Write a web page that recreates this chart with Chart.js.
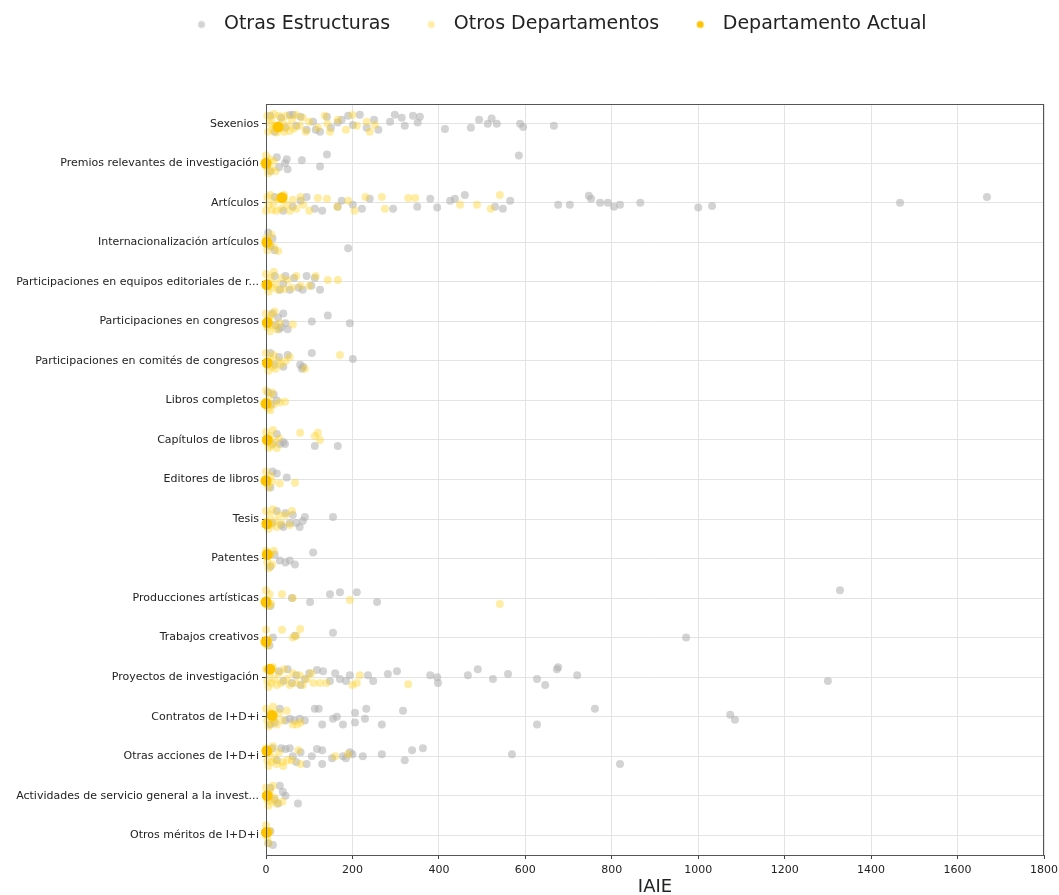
<html><head><script src="https://cdn.jsdelivr.net/npm/chart.js@4.4.3/dist/chart.umd.min.js"></script>
<style>body{margin:0;background:#fff}</style></head>
<body>
<canvas id="mychart" width="1059" height="895"></canvas>
<script>
// categorias del eje Y (de arriba a abajo)
categories = ["Sexenios", "Premios relevantes de investigación", "Artículos", "Internacionalización artículos",
  "Participaciones en equipos editoriales de r...", "Participaciones en congresos", "Participaciones en comités de congresos",
  "Libros completos", "Capítulos de libros", "Editores de libros", "Tesis", "Patentes", "Producciones artísticas",
  "Trabajos creativos", "Proyectos de investigación", "Contratos de I+D+i", "Otras acciones de I+D+i",
  "Actividades de servicio general a la invest...", "Otros méritos de I+D+i"]
xTicks = [0, 200, 400, 600, 800, 1000, 1200, 1400, 1600, 1800]
seriesNames = ["Otras Estructuras", "Otros Departamentos", "Departamento Actual"]

// [categoria, IAIE, desplazamiento vertical del punto (jitter)]
otrasEstructuras = [
  [0,10,-0.2],[0,20,0.2],[0,35,-0.15],[0,45,0.1],[0,55,-0.22],[0,62,-0.23],[0,70,0.05],[0,80,-0.18],[0,94,0.15],[0,109,-0.05],
  [0,115,0.15],[0,125,0.2],[0,141,-0.18],[0,150,0.1],[0,166,-0.03],[0,175,-0.1],[0,190,-0.2],[0,201,0.03],[0,217,-0.23],
  [0,233,0.1],[0,250,-0.1],[0,260,0.15],[0,287,-0.05],[0,298,-0.23],[0,314,-0.15],[0,321,0.05],[0,340,-0.2],[0,351,-0.03],
  [0,356,-0.18],[0,414,0.13],[0,474,0.1],[0,493,-0.1],[0,513,0],[0,522,-0.13],[0,534,0],[0,588,0],[0,595,0.08],[0,666,0.05],
  [1,10,0.2],[1,25,-0.15],[1,30,0.1],[1,44,0],[1,48,-0.1],[1,50,0.15],[1,83,-0.08],[1,125,0.08],[1,141,-0.22],[1,585,-0.2],
  [2,20,-0.15],[2,40,0.2],[2,62,0.1],[2,80,-0.05],[2,94,-0.15],[2,113,0.15],[2,130,0.2],[2,166,0.1],[2,175,-0.05],[2,201,0.05],
  [2,222,0.15],[2,240,-0.1],[2,294,0.15],[2,350,0.1],[2,380,-0.1],[2,396,0.12],[2,426,-0.05],[2,437,-0.1],[2,460,-0.2],
  [2,530,0.1],[2,548,0.15],[2,565,-0.05],[2,676,0.05],[2,703,0.05],[2,747,-0.18],[2,752,-0.1],[2,773,0],[2,791,0],[2,805,0.1],
  [2,819,0.05],[2,866,0],[2,1000,0.12],[2,1032,0.08],[2,1467,0],[2,1668,-0.15],
  [3,5,-0.25],[3,10,0.1],[3,15,-0.1],[3,20,0.2],[3,190,0.15],
  [4,20,-0.15],[4,32,0.2],[4,40,0.05],[4,45,-0.15],[4,55,0.2],[4,65,-0.1],[4,75,0.15],[4,85,0.2],[4,94,-0.15],[4,105,0.1],
  [4,113,-0.1],[4,125,0.2],
  [5,15,-0.2],[5,22,0.1],[5,28,-0.1],[5,30,0.2],[5,35,0.15],[5,40,-0.2],[5,45,0.05],[5,50,0.2],[5,106,0],[5,143,-0.15],[5,194,0.05],
  [6,10,-0.2],[6,20,0.1],[6,30,-0.1],[6,40,0.15],[6,50,-0.15],[6,79,0.1],[6,83,0.2],[6,86,0.15],[6,106,-0.2],[6,201,-0.05],
  [7,5,-0.2],[7,12,0.1],[7,18,-0.15],[7,25,0],
  [8,15,0.1],[8,25,-0.15],[8,32,0.1],[8,40,0.05],[8,44,0.1],[8,113,0.15],[8,166,0.15],
  [9,10,0.2],[9,15,-0.2],[9,25,-0.15],[9,48,-0.05],
  [10,15,0.1],[10,25,-0.2],[10,35,0.15],[10,40,0.2],[10,45,-0.15],[10,55,0.1],[10,62,-0.1],[10,70,0.1],[10,78,0.2],[10,85,0.05],
  [10,90,-0.05],[10,155,-0.05],
  [11,10,0.2],[11,20,-0.1],[11,32,0.05],[11,45,0.1],[11,55,0.05],[11,67,0.15],[11,109,-0.15],
  [12,10,0.2],[12,60,0],[12,102,0.1],[12,148,-0.1],[12,171,-0.15],[12,210,-0.15],[12,257,0.1],[12,1328,-0.2],
  [13,8,0.2],[13,16,0],[13,67,-0.05],[13,155,-0.12],[13,972,0],
  [14,30,-0.15],[14,40,0.1],[14,50,-0.2],[14,60,0.15],[14,70,-0.05],[14,80,0.2],[14,90,0.05],[14,100,-0.1],[14,118,-0.18],
  [14,132,-0.15],[14,148,0.1],[14,160,-0.1],[14,171,0.05],[14,185,0.1],[14,194,-0.05],[14,236,-0.05],[14,248,0.1],[14,282,-0.08],
  [14,303,-0.15],[14,380,-0.05],[14,396,0],[14,398,0.15],[14,467,-0.05],[14,490,-0.2],[14,525,0.05],[14,560,-0.08],[14,627,0.05],
  [14,646,0.2],[14,673,-0.2],[14,676,-0.25],[14,720,-0.05],[14,1300,0.1],
  [15,10,0.2],[15,20,0.15],[15,32,-0.2],[15,45,0.1],[15,55,0.05],[15,65,0.1],[15,78,0.05],[15,90,0.1],[15,113,-0.2],[15,122,-0.2],
  [15,130,0.2],[15,155,0.05],[15,164,0],[15,178,0.2],[15,206,0.15],[15,206,-0.1],[15,229,0.05],[15,232,-0.2],[15,268,0.2],
  [15,317,-0.15],[15,627,0.2],[15,761,-0.2],[15,1074,-0.05],[15,1085,0.08],
  [16,15,-0.2],[16,25,0.1],[16,35,-0.2],[16,45,-0.18],[16,55,-0.2],[16,62,0],[16,70,0.15],[16,80,-0.1],[16,94,0.2],[16,106,0],
  [16,118,-0.18],[16,130,-0.15],[16,130,0.2],[16,153,0.05],[16,178,0],[16,185,0.05],[16,194,-0.1],[16,200,-0.05],[16,224,0],
  [16,268,-0.05],[16,321,0.1],[16,338,-0.15],[16,363,-0.2],[16,569,-0.05],[16,819,0.2],
  [17,10,-0.2],[17,20,0.1],[17,28,0.2],[17,32,-0.25],[17,39,-0.1],[17,45,0],[17,74,0.2],
  [18,5,0.2],[18,10,-0.1],[18,16,0.25]
]
otrosDepartamentos = [
  [0,3,-0.2],[0,5,0.2],[0,8,0],[0,12,-0.1],[0,15,0.15],[0,18,-0.25],[0,22,0.05],[0,25,0.22],[0,30,-0.2],[0,33,0.1],[0,38,-0.05],
  [0,42,0.2],[0,46,-0.2],[0,50,0.05],[0,55,0.18],[0,60,-0.1],[0,65,0.12],[0,70,-0.22],[0,78,0.05],[0,85,-0.15],[0,92,0.2],
  [0,100,-0.05],[0,120,0.1],[0,136,-0.2],[0,142,0],[0,148,0.2],[0,166,-0.1],[0,185,0.15],[0,200,-0.22],[0,210,0.05],
  [0,233,-0.05],[0,240,0.2],[0,252,0.03],
  [1,0,-0.2],[1,2,0.1],[1,5,0.25],[1,8,-0.1],[1,12,0.15],[1,18,-0.05],[1,22,0.2],
  [2,0,0.2],[2,3,-0.15],[2,6,0.05],[2,10,-0.2],[2,14,0.18],[2,18,0],[2,24,0.2],[2,28,-0.1],[2,35,0.15],[2,42,-0.2],[2,48,0.05],
  [2,55,0.2],[2,62,-0.08],[2,70,0.15],[2,80,-0.15],[2,86,0.05],[2,100,0.2],[2,120,-0.12],[2,141,-0.1],[2,165,0.1],[2,190,-0.05],
  [2,205,0.2],[2,230,-0.15],[2,268,-0.15],[2,275,0.15],[2,329,-0.12],[2,345,-0.12],[2,449,0.05],[2,488,0.05],[2,520,0.15],[2,541,-0.2],
  [3,0,-0.1],[3,3,0.2],[3,8,0.05],[3,12,-0.2],[3,18,0.12],[3,28,0.22],
  [4,0,-0.2],[4,3,0.1],[4,6,0.25],[4,10,-0.1],[4,14,0.15],[4,18,-0.25],[4,22,0.05],[4,28,0.2],[4,35,-0.1],[4,42,0.18],[4,50,-0.05],
  [4,60,0.15],[4,70,-0.15],[4,80,0.1],[4,100,0.1],[4,115,-0.15],[4,143,-0.05],[4,166,-0.05],
  [5,0,-0.2],[5,3,0.15],[5,6,-0.05],[5,9,0.25],[5,12,-0.15],[5,16,0.1],[5,20,-0.25],[5,25,0.2],[5,32,0.05],[5,62,0.08],
  [6,0,-0.2],[6,3,0.1],[6,6,0.25],[6,10,-0.05],[6,14,0.15],[6,18,-0.15],[6,22,0.2],[6,28,0],[6,35,0.1],[6,45,0],[6,55,-0.1],
  [6,90,0.2],[6,171,-0.15],
  [7,0,-0.25],[7,2,0.05],[7,5,0.2],[7,8,-0.1],[7,10,0.25],[7,14,-0.2],[7,18,0.1],[7,32,0.05],[7,44,0.03],
  [8,0,-0.2],[8,3,0.05],[8,6,0.2],[8,9,-0.1],[8,12,0.15],[8,16,-0.25],[8,20,0.05],[8,25,0.2],[8,30,-0.05],[8,79,-0.18],
  [8,113,-0.1],[8,120,-0.18],[8,125,0],
  [9,0,-0.2],[9,3,0.1],[9,6,0.2],[9,10,-0.1],[9,14,0.05],[9,32,0.1],[9,67,0.08],
  [10,0,-0.2],[10,3,0.1],[10,6,0.25],[10,9,-0.1],[10,12,0.15],[10,16,-0.25],[10,20,0.05],[10,25,0.2],[10,30,-0.1],[10,35,0.1],
  [10,45,-0.1],[10,55,0.15],[10,60,-0.2],
  [11,0,-0.2],[11,3,0.1],[11,6,0.25],[11,10,-0.1],[11,14,0.15],[11,18,-0.2],
  [12,0,-0.2],[12,2,0.05],[12,5,0.2],[12,8,-0.1],[12,12,0.15],[12,37,-0.1],[12,62,0],[12,194,0.05],[12,541,0.15],
  [13,0,-0.2],[13,3,0.2],[13,6,0.05],[13,37,-0.2],[13,62,0],[13,70,-0.05],[13,79,-0.22],
  [14,0,-0.2],[14,3,0.1],[14,6,0.25],[14,9,-0.1],[14,12,0.15],[14,16,-0.25],[14,20,0.05],[14,25,0.2],[14,30,-0.1],[14,35,0.15],
  [14,42,-0.2],[14,48,0.05],[14,55,0.2],[14,62,-0.1],[14,70,0.15],[14,78,-0.05],[14,85,0.2],[14,95,0.05],[14,105,-0.1],
  [14,110,0.15],[14,125,0.15],[14,140,0.15],[14,200,0.2],[14,210,0.15],[14,217,-0.05],[14,329,0.18],
  [15,0,-0.2],[15,3,0.1],[15,6,0.25],[15,9,-0.1],[15,12,0.15],[15,16,-0.25],[15,20,0.05],[15,25,0.2],[15,30,-0.1],[15,38,0.1],
  [15,48,-0.15],[15,62,0.2],[15,72,0.2],[15,80,0.15],
  [16,0,-0.2],[16,3,0.1],[16,6,0.25],[16,9,-0.1],[16,12,0.15],[16,16,-0.25],[16,20,0.05],[16,25,0.2],[16,30,-0.1],[16,38,0.15],
  [16,40,0.25],[16,50,0.1],[16,60,0.1],[16,75,-0.15],[16,80,0.2],[16,160,0],[16,190,-0.05],
  [17,0,-0.2],[17,3,0.1],[17,6,0.25],[17,9,-0.1],[17,12,0.15],[17,16,-0.25],[17,20,0.05],[17,25,0.2],[17,38,0.15],
  [18,0,-0.25],[18,3,0.05],[18,6,0.2],[18,9,-0.1]
]
departamentoActual = [
  [0,28,0.08],[1,0,0],[2,37,-0.13],[3,2,0],[4,2,0.07],[5,3,0.03],[6,3,0.05],[7,0,0.08],[8,3,0],[9,0,0.03],
  [10,2,0.12],[11,3,-0.1],[12,0,0.1],[13,0,0.1],[14,9,-0.2],[15,14,-0.03],[16,2,-0.13],[17,3,0],[18,1,-0.07]
]

colors = ["rgba(175,175,175,0.55)", "rgba(255,210,30,0.4)", "rgba(255,196,0,1)"]

function toPoints(arr) {
  return arr.map(p => ({ x: p[1], y: p[0] + p[2] }))
}

// punto de la leyenda: canvas pequeno con un circulo
function legendDot(color) {
  c = document.createElement("canvas")
  c.width = 44; c.height = 12
  g = c.getContext("2d")
  g.fillStyle = color
  g.beginPath(); g.arc(31, 6, 3.5, 0, Math.PI * 2); g.fill()
  return c
}
legendDots = colors.map(legendDot)

frame = {
  id: "frame",
  beforeInit(chart) {
    const origFit = chart.legend.fit
    chart.legend.fit = function () { origFit.bind(chart.legend)(); this.height = 99 }
  },
  afterLayout(chart) {
    // la leyenda va un poco a la derecha, como en el original
    chart.legend.left += 19; chart.legend.right += 19
  },
  afterDatasetsDraw(chart) {
    const a = chart.chartArea, ctx = chart.ctx
    ctx.save(); ctx.strokeStyle = "#555"; ctx.lineWidth = 1
    ctx.strokeRect(a.left + 0.5, a.top + 0.5, a.right - a.left - 1, a.bottom - a.top)
    ctx.restore()
  }
}

Chart.defaults.font.family = "'DejaVu Sans'"
Chart.defaults.color = "#222"

datainfo = {
  datasets: [
    { label: seriesNames[0], data: toPoints(otrasEstructuras), backgroundColor: colors[0], pointRadius: 4, pointBorderWidth: 0, order: 3 },
    { label: seriesNames[1], data: toPoints(otrosDepartamentos), backgroundColor: colors[1], pointRadius: 4, pointBorderWidth: 0, order: 2 },
    { label: seriesNames[2], data: toPoints(departamentoActual), backgroundColor: colors[2], pointRadius: 5.5, pointBorderWidth: 0, order: 1 }
  ]
}

config = {
  type: "scatter",
  data: datainfo,
  plugins: [frame],
  options: {
    responsive: false,
    animation: false,
    clip: false,
    layout: { padding: { left: 0, right: 0, top: 5, bottom: 0 } },
    plugins: {
      tooltip: { enabled: false },
      legend: {
        position: "top",
        labels: {
          usePointStyle: true, pointStyleWidth: 44, padding: 10,
          font: { size: 19 }, color: "#222",
          sort: (a, b) => a.datasetIndex - b.datasetIndex,
          generateLabels(chart) {
            const items = Chart.defaults.plugins.legend.labels.generateLabels(chart)
            items.forEach(it => { it.pointStyle = legendDots[it.datasetIndex] })
            return items
          }
        }
      }
    },
    scales: {
      x: {
        type: "linear", min: xTicks[0], max: xTicks[xTicks.length - 1],
        afterBuildTicks: s => { s.ticks = xTicks.map(v => ({ value: v })) },
        afterFit: s => { s.height = 40; s.paddingRight = 15 },
        ticks: { font: { size: 11 }, padding: 5, maxRotation: 0, callback: v => String(v) },
        grid: { color: "#e3e3e3", tickColor: "#444", tickLength: 4 },
        border: { color: "#555" },
        title: { display: true, text: "IAIE", font: { size: 18 }, padding: { top: 0, bottom: -3 } }
      },
      y: {
        type: "linear", reverse: true, min: -0.5, max: categories.length - 0.5,
        afterBuildTicks: s => { s.ticks = categories.map((c, i) => ({ value: i })) },
        afterFit: s => { s.width = 266 },
        ticks: { font: { size: 11 }, padding: 3, callback: v => categories[v] },
        grid: { color: "#e3e3e3", tickColor: "#444", tickLength: 4 },
        border: { color: "#555" }
      }
    }
  }
}
new Chart(document.querySelector("#mychart"), config)
</script>
</body></html>
